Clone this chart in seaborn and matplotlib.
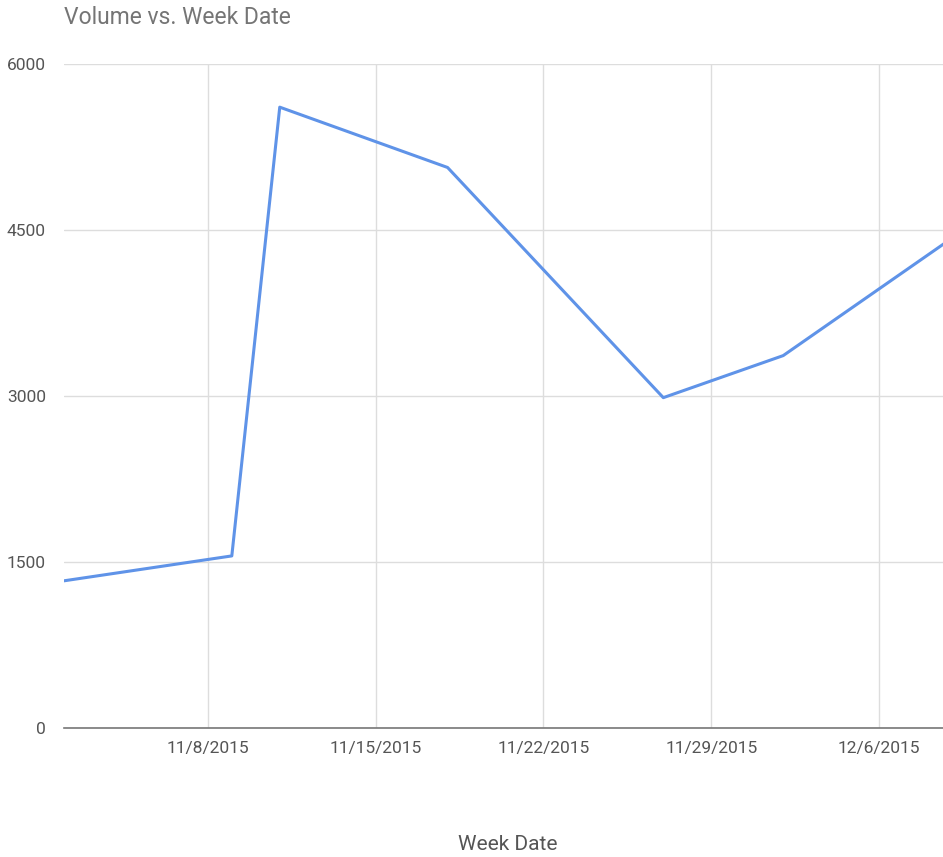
import pandas as pd
import matplotlib
matplotlib.use('Agg')
import matplotlib.pyplot as plt
import seaborn as sns

week_date = ['2015-11-02', '2015-11-09', '2015-11-11', '2015-11-18',
             '2015-11-27', '2015-12-02', '2015-12-09']
volume = [1330, 1555, 5610, 5065, 2985, 3365, 4420]
tick_dates = ['2015-11-08', '2015-11-15', '2015-11-22', '2015-11-29', '2015-12-06']
tick_labels = ['11/8/2015', '11/15/2015', '11/22/2015', '11/29/2015', '12/6/2015']
y_ticks = [0, 1500, 3000, 4500, 6000]

df = pd.DataFrame({'Week Date': pd.to_datetime(week_date), 'Volume': volume})

sns.set_style('white')
plt.rcParams['font.family'] = ['Roboto', 'DejaVu Sans']

fig = plt.figure(figsize=(9.43, 8.57), dpi=100)
ax = fig.add_axes([64 / 943, 1 - 728 / 857, 1 - 64 / 943, (728 - 64) / 857])

sns.lineplot(data=df, x='Week Date', y='Volume', ax=ax, color='#5f93e8', linewidth=2.2)

ax.set_xlim(pd.Timestamp('2015-11-02'), pd.Timestamp('2015-12-08 16:00'))
ax.set_ylim(0, 6000)
ax.set_xticks(pd.to_datetime(tick_dates))
ax.set_xticklabels(tick_labels)
ax.set_yticks(y_ticks)
ax.set_yticklabels([str(v) for v in y_ticks])

ax.grid(True, color='#dddddd', linewidth=1.0)
ax.set_axisbelow(True)
for s in ['top', 'right', 'left']:
    ax.spines[s].set_visible(False)
ax.spines['bottom'].set_color('#777777')
ax.spines['bottom'].set_linewidth(1.2)
ax.tick_params(axis='both', length=0, colors='#555555', labelsize=12.5)
ax.tick_params(axis='y', pad=13)
ax.tick_params(axis='x', pad=9)

ax.set_xlabel('')
ax.set_ylabel('')
fig.text(508 / 943, 1 - 845 / 857, 'Week Date', fontsize=15,
         color='#555555', ha='center', va='center')
fig.text(64 / 943, 1 - 18 / 857, 'Volume vs. Week Date', fontsize=16.5,
         color='#757575', ha='left', va='center')

fig.savefig('out.png', dpi=100)
